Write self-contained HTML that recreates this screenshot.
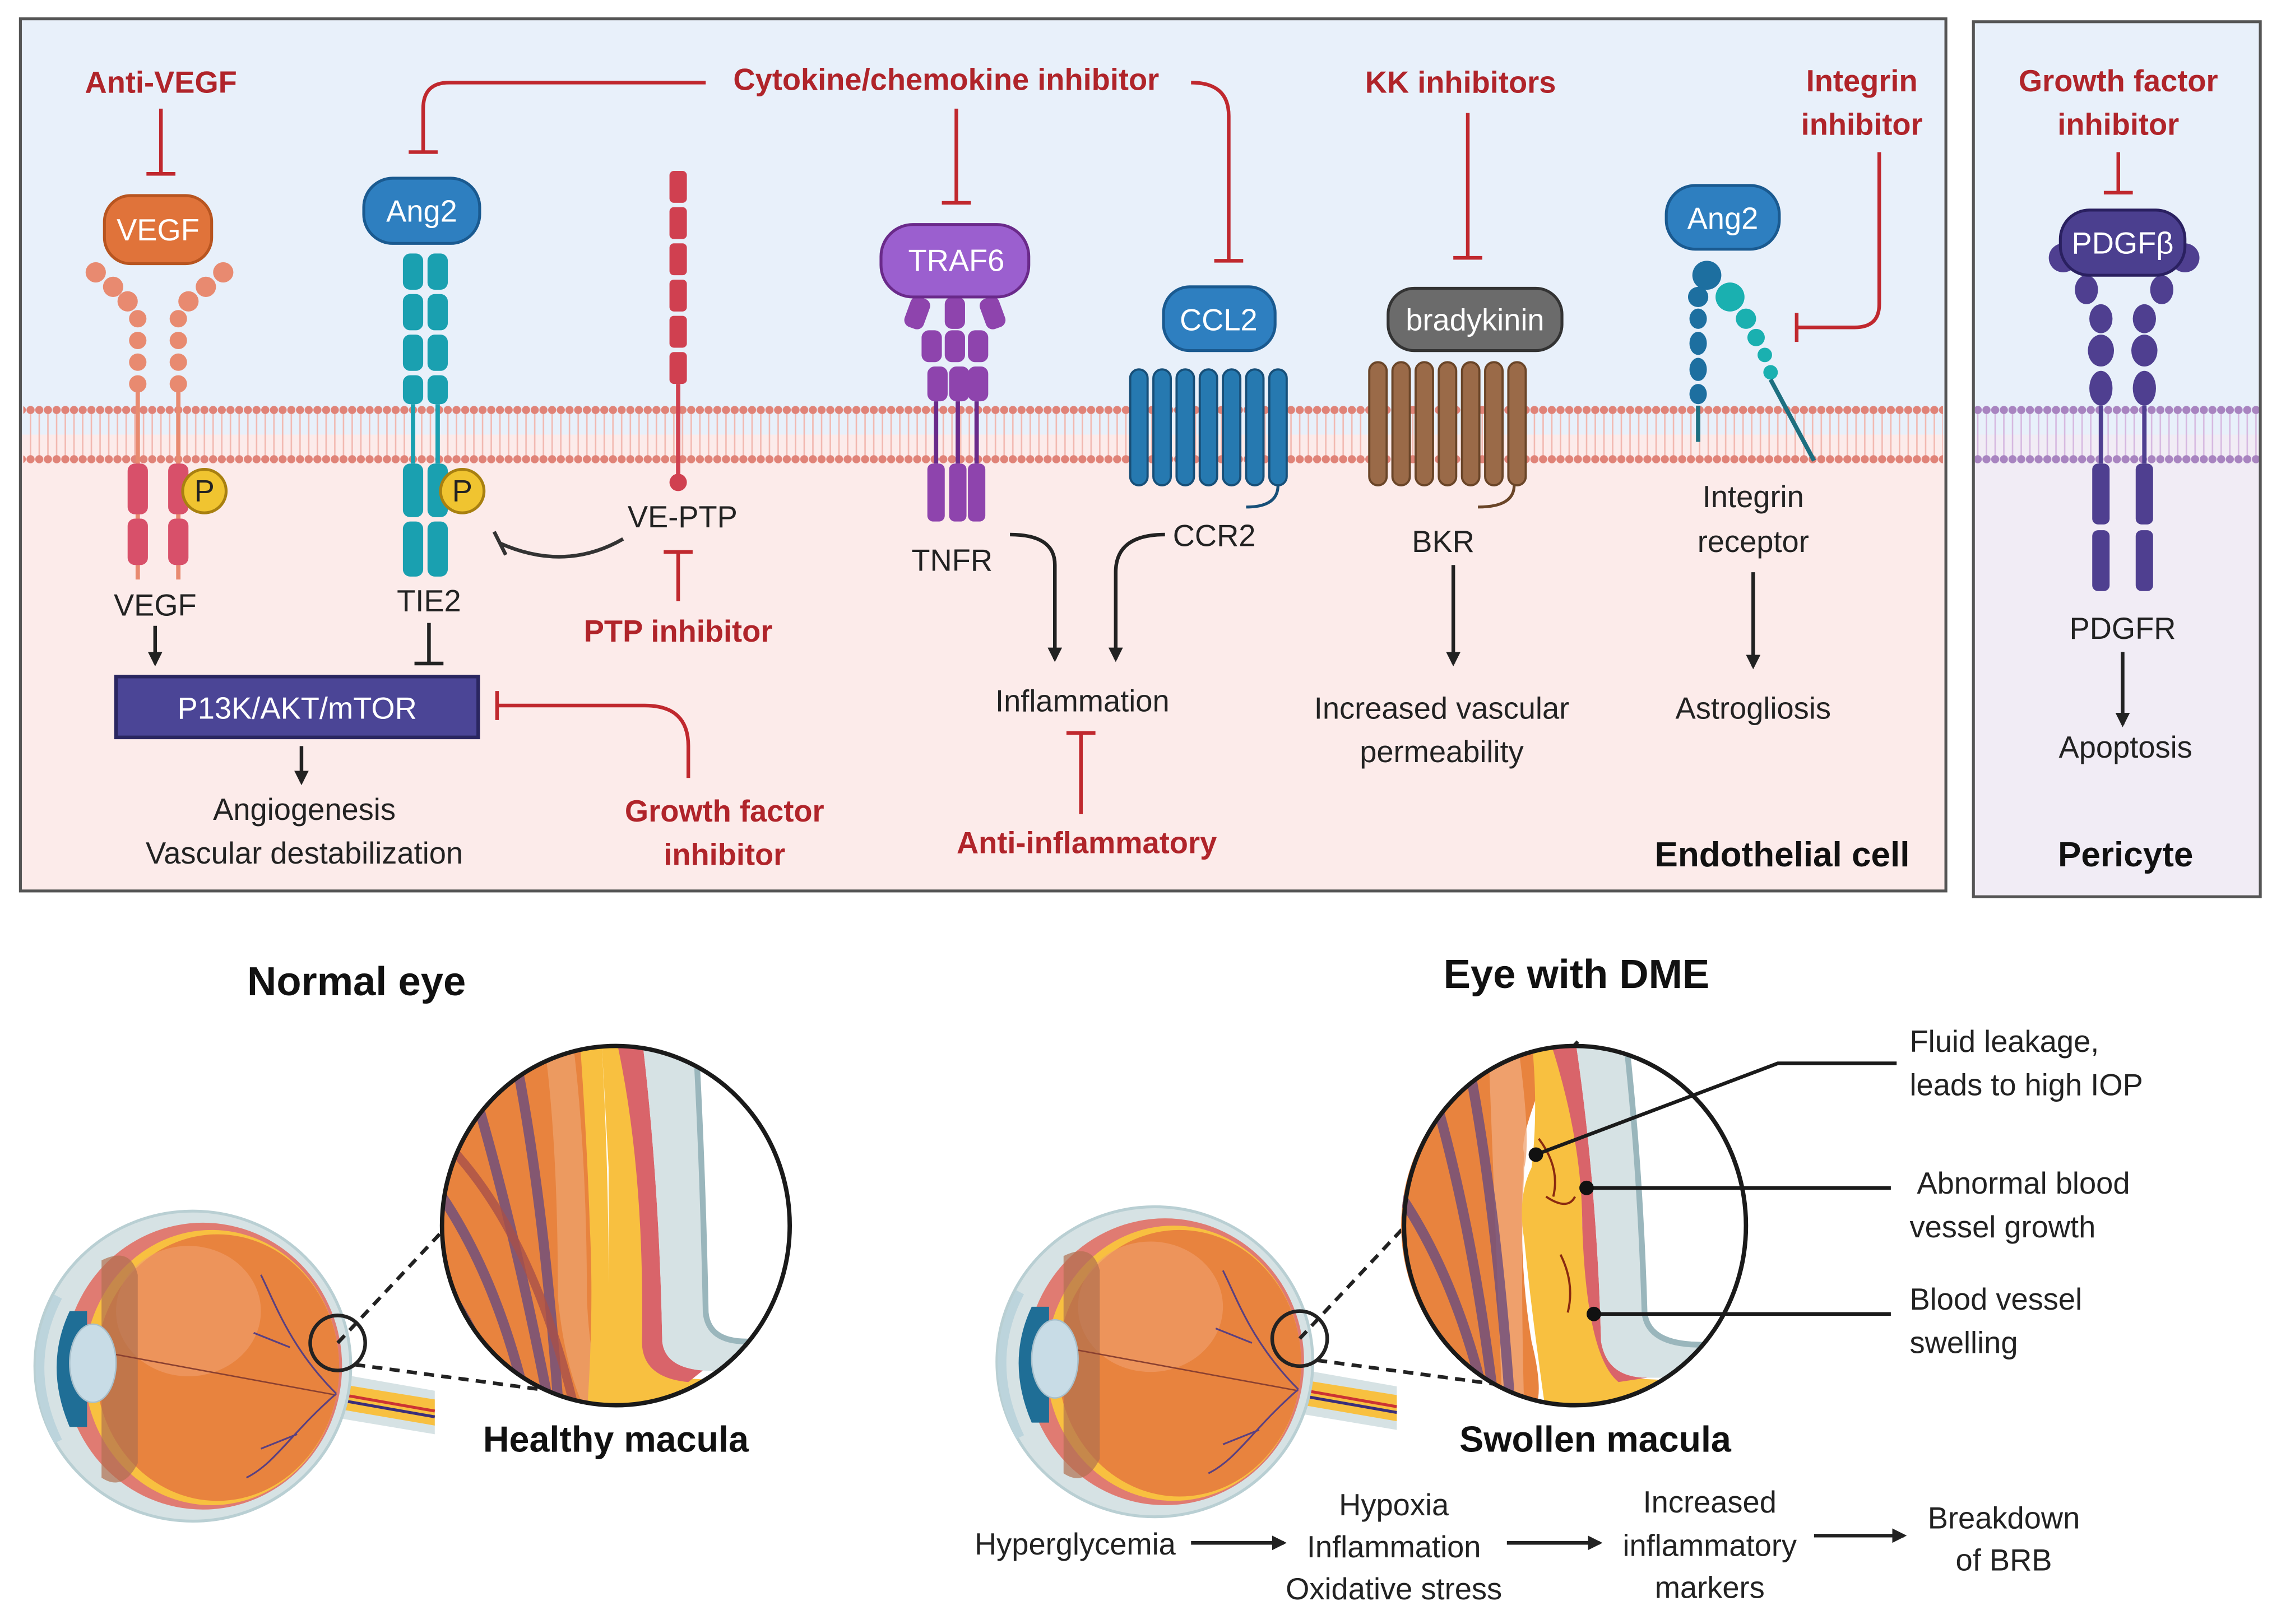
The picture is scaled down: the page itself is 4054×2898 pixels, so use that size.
<!DOCTYPE html>
<html><head><meta charset="utf-8"><style>
html,body{margin:0;padding:0;background:#fff}
svg{display:block}
text{font-family:"Liberation Sans",sans-serif}
.r{fill:#b0242a;font-weight:bold;font-size:21px;text-anchor:middle}
.k{fill:#222;font-size:21px;text-anchor:middle}
.w{fill:#fff;font-size:21px;text-anchor:middle}
.b{fill:#111;font-weight:bold;text-anchor:middle}
.inh{stroke:#c0282e;stroke-width:2.5;fill:none}
.ar{stroke:#222;stroke-width:2.5;fill:none}
</style></head><body>
<svg width="4054" height="2898" viewBox="0 0 1568 1121" xmlns="http://www.w3.org/2000/svg">
<defs>
<pattern id="mem" width="6" height="40" patternUnits="userSpaceOnUse">
<line x1="3" y1="4" x2="3" y2="36" stroke="#f2b8b0" stroke-width="1"/>
<circle cx="3" cy="3" r="2.8" fill="#e08378"/><circle cx="3" cy="37" r="2.8" fill="#e08378"/>
</pattern>
<pattern id="memp" width="6" height="40" patternUnits="userSpaceOnUse">
<line x1="3" y1="4" x2="3" y2="36" stroke="#d6b8e0" stroke-width="1"/>
<circle cx="3" cy="3" r="2.8" fill="#a884c0"/><circle cx="3" cy="37" r="2.8" fill="#a884c0"/>
</pattern>
<marker id="ah" markerWidth="10" markerHeight="10" refX="8" refY="5" orient="auto" markerUnits="userSpaceOnUse"><path d="M0,0 L10,5 L0,10 z" fill="#222"/></marker>
<clipPath id="bc"><ellipse cx="0" cy="0" rx="120" ry="124"/></clipPath>
<g id="eye">
<path d="M232,948 L300,960 L300,990 L228,978 Z" fill="#d6e2e4"/>
<path d="M232,955 L300,966 L300,984 L230,972 Z" fill="#f8c040"/>
<path d="M232,962 L300,974" stroke="#c33" stroke-width="2"/><path d="M232,966 L300,978" stroke="#3a2e7a" stroke-width="2"/>
<ellipse cx="133" cy="943" rx="109" ry="107" fill="#d6e2e4" stroke="#b9cfd3" stroke-width="2"/>
<ellipse cx="140" cy="943" rx="96" ry="99" fill="#e07b72"/>
<ellipse cx="146" cy="944" rx="88" ry="95" fill="#f8c040"/>
<ellipse cx="150" cy="944" rx="84" ry="92" fill="#e8833e"/>
<ellipse cx="130" cy="905" rx="50" ry="45" fill="#f0a070" opacity=".6"/>
<path d="M70,870 Q90,860 95,880 L95,1010 Q85,1030 70,1020 Z" fill="#b07050" opacity=".7"/>
<path d="M48,905 Q30,943 48,985 L60,985 L60,905 Z" fill="#1f6e96"/>
<path d="M40,895 Q15,943 40,995" stroke="#bcd4dc" stroke-width="6" fill="none"/>
<ellipse cx="64" cy="941" rx="16" ry="27" fill="#c8dce6" stroke="#a8c0cc"/>
<path d="M80,935 L232,963" stroke="#8a4030" stroke-width="1"/>
<path d="M232,962 C200,930 190,900 180,880 M232,962 C200,990 190,1010 170,1020 M200,930 L175,920 M205,990 L180,1000" stroke="#5a4080" stroke-width="1.2" fill="none"/>
<line x1="233" y1="927" x2="425" y2="722" stroke="#222" stroke-width="2.5" stroke-dasharray="7,5"/>
<line x1="245" y1="942" x2="395" y2="962" stroke="#222" stroke-width="2.5" stroke-dasharray="7,5"/>
<circle cx="233" cy="927" r="19" fill="none" stroke="#222" stroke-width="2.5"/>
</g>
</defs>

<rect x="14" y="13" width="1329" height="602" fill="#fcebea"/>
<rect x="14" y="13" width="1329" height="287" fill="#e8f0fa"/>
<rect x="16" y="280" width="1325" height="40" fill="url(#mem)"/>
<rect x="14" y="13" width="1329" height="602" fill="none" stroke="#555" stroke-width="2"/>
<rect x="1362" y="15" width="198" height="604" fill="#f1ecf5"/>
<rect x="1362" y="15" width="198" height="285" fill="#e8f0fa"/>
<rect x="1363" y="280" width="196" height="40" fill="url(#memp)"/>
<rect x="1362" y="15" width="198" height="604" fill="none" stroke="#555" stroke-width="2"/>

<text x="111" y="64" class="r">Anti-VEGF</text>
<path d="M111,75 V120 M101,120 H121" class="inh"/>
<g fill="#e88a70">
<circle cx="66" cy="188" r="7"/><circle cx="78" cy="198" r="7"/><circle cx="88" cy="208" r="7"/>
<circle cx="154" cy="188" r="7"/><circle cx="142" cy="198" r="7"/><circle cx="130" cy="208" r="7"/>
<circle cx="95" cy="220" r="6"/><circle cx="95" cy="235" r="6"/><circle cx="95" cy="250" r="6"/><circle cx="95" cy="265" r="6"/>
<circle cx="123" cy="220" r="6"/><circle cx="123" cy="235" r="6"/><circle cx="123" cy="250" r="6"/><circle cx="123" cy="265" r="6"/>
</g>
<path d="M95,270 V400 M123,270 V400" stroke="#e88a70" stroke-width="3"/>
<g fill="#d8506a"><rect x="88" y="320" width="14" height="35" rx="5"/><rect x="88" y="358" width="14" height="32" rx="5"/><rect x="116" y="320" width="14" height="35" rx="5"/><rect x="116" y="358" width="14" height="32" rx="5"/></g>
<rect x="72" y="135" width="74" height="47" rx="18" fill="#e0733a" stroke="#b85520" stroke-width="2"/>
<text x="109" y="166" class="w">VEGF</text>
<circle cx="141" cy="339" r="15" fill="#f0c430" stroke="#a88010" stroke-width="2"/><text x="141" y="346" class="k" font-size="18">P</text>
<text x="107" y="425" class="k">VEGF</text>
<path d="M107,432 V458" class="ar" marker-end="url(#ah)"/>

<text x="653" y="62" class="r">Cytokine/chemokine inhibitor</text>
<path d="M487,57 H310 Q292,57 292,75 V105 M282,105 H302" class="inh"/>
<path d="M660,75 V140 M650,140 H670" class="inh"/>
<path d="M822,57 Q848,57 848,80 V180 M838,180 H858" class="inh"/>
<g fill="#1aa0b0">
<rect x="278" y="175" width="14" height="25" rx="5"/><rect x="295" y="175" width="14" height="25" rx="5"/>
<rect x="278" y="203" width="14" height="25" rx="5"/><rect x="295" y="203" width="14" height="25" rx="5"/>
<rect x="278" y="231" width="14" height="25" rx="5"/><rect x="295" y="231" width="14" height="25" rx="5"/>
<rect x="278" y="259" width="14" height="20" rx="5"/><rect x="295" y="259" width="14" height="20" rx="5"/>
<rect x="278" y="320" width="14" height="37" rx="5"/><rect x="295" y="320" width="14" height="37" rx="5"/>
<rect x="278" y="360" width="14" height="38" rx="5"/><rect x="295" y="360" width="14" height="38" rx="5"/>
</g>
<path d="M285,279 V320 M302,279 V320" stroke="#1aa0b0" stroke-width="3"/>
<rect x="251" y="123" width="80" height="45" rx="20" fill="#2e7fc0" stroke="#1a5a90" stroke-width="2"/>
<text x="291" y="153" class="w">Ang2</text>
<circle cx="319" cy="339" r="15" fill="#f0c430" stroke="#a88010" stroke-width="2"/><text x="319" y="346" class="k" font-size="18">P</text>
<text x="296" y="422" class="k">TIE2</text>
<path d="M296,430 V458 M286,458 H306" class="ar"/>

<g fill="#d04050"><rect x="462" y="118" width="12" height="22" rx="3"/><rect x="462" y="143" width="12" height="22" rx="3"/><rect x="462" y="168" width="12" height="22" rx="3"/><rect x="462" y="193" width="12" height="22" rx="3"/><rect x="462" y="218" width="12" height="22" rx="3"/><rect x="462" y="243" width="12" height="22" rx="3"/></g>
<path d="M468,265 V330" stroke="#d04050" stroke-width="3"/><circle cx="468" cy="333" r="6" fill="#d04050"/>
<text x="471" y="364" class="k">VE-PTP</text>
<path d="M430,372 Q390,395 345,375 M341,367 L349,383" stroke="#333" stroke-width="2.5" fill="none"/>
<path d="M468,415 V381 M458,381 H478" class="inh"/>
<text x="468" y="443" class="r">PTP inhibitor</text>

<rect x="80" y="467" width="250" height="42" fill="#4b4596" stroke="#2a2660" stroke-width="2.5"/>
<text x="205" y="496" class="w">P13K/AKT/mTOR</text>
<path d="M208,515 V540" class="ar" marker-end="url(#ah)"/>
<text x="210" y="566" class="k">Angiogenesis</text>
<text x="210" y="596" class="k">Vascular destabilization</text>
<path d="M475,537 V515 Q475,487 445,487 H343 M343,477 V497" class="inh"/>
<text x="500" y="567" class="r">Growth factor</text>
<text x="500" y="597" class="r">inhibitor</text>

<g fill="#8e44ad">
<rect x="626" y="205" width="14" height="22" rx="5" transform="rotate(20 633 216)"/><rect x="652" y="205" width="14" height="22" rx="5"/><rect x="678" y="205" width="14" height="22" rx="5" transform="rotate(-20 685 216)"/>
<rect x="636" y="228" width="14" height="22" rx="5"/><rect x="652" y="228" width="14" height="22" rx="5"/><rect x="668" y="228" width="14" height="22" rx="5"/>
<rect x="640" y="253" width="14" height="24" rx="5"/><rect x="655" y="253" width="14" height="24" rx="5"/><rect x="668" y="253" width="14" height="24" rx="5"/>
<rect x="640" y="320" width="12" height="40" rx="4"/><rect x="655" y="320" width="12" height="40" rx="4"/><rect x="668" y="320" width="12" height="40" rx="4"/>
</g>
<path d="M646,277 V320 M661,277 V320 M674,277 V320" stroke="#6a2a8a" stroke-width="3"/>
<rect x="608" y="155" width="102" height="50" rx="22" fill="#9b5fcf" stroke="#6a2a8a" stroke-width="2"/>
<text x="660" y="187" class="w">TRAF6</text>
<text x="657" y="394" class="k">TNFR</text>
<path d="M697,369 Q728,369 728,390 V455" class="ar" marker-end="url(#ah)"/>

<g fill="#2679b0" stroke="#174f78" stroke-width="1.5">
<rect x="780" y="255" width="12" height="80" rx="6"/><rect x="796" y="255" width="12" height="80" rx="6"/><rect x="812" y="255" width="12" height="80" rx="6"/><rect x="828" y="255" width="12" height="80" rx="6"/><rect x="844" y="255" width="12" height="80" rx="6"/><rect x="860" y="255" width="12" height="80" rx="6"/><rect x="876" y="255" width="12" height="80" rx="6"/>
</g>
<path d="M882,335 Q882,350 860,350" stroke="#174f78" stroke-width="2" fill="none"/>
<rect x="803" y="198" width="77" height="44" rx="18" fill="#2e7fc0" stroke="#1a5a90" stroke-width="2"/>
<text x="841" y="228" class="w">CCL2</text>
<text x="838" y="377" class="k">CCR2</text>
<path d="M804,369 Q770,369 770,395 V455" class="ar" marker-end="url(#ah)"/>
<text x="747" y="491" class="k">Inflammation</text>
<path d="M746,562 V506 M736,506 H756" class="inh"/>
<text x="750" y="589" class="r">Anti-inflammatory</text>

<text x="1008" y="64" class="r">KK inhibitors</text>
<path d="M1013,78 V178 M1003,178 H1023" class="inh"/>
<g fill="#9a6a48" stroke="#6a4528" stroke-width="1.5">
<rect x="945" y="250" width="12" height="85" rx="6"/><rect x="961" y="250" width="12" height="85" rx="6"/><rect x="977" y="250" width="12" height="85" rx="6"/><rect x="993" y="250" width="12" height="85" rx="6"/><rect x="1009" y="250" width="12" height="85" rx="6"/><rect x="1025" y="250" width="12" height="85" rx="6"/><rect x="1041" y="250" width="12" height="85" rx="6"/>
</g>
<path d="M1045,335 Q1045,350 1020,350" stroke="#6a4528" stroke-width="2" fill="none"/>
<rect x="958" y="199" width="120" height="43" rx="18" fill="#6b6b6b" stroke="#333" stroke-width="2"/>
<text x="1018" y="228" class="w">bradykinin</text>
<text x="996" y="381" class="k">BKR</text>
<path d="M1003,390 V458" class="ar" marker-end="url(#ah)"/>
<text x="995" y="496" class="k">Increased vascular</text>
<text x="995" y="526" class="k">permeability</text>

<text x="1285" y="63" class="r">Integrin</text><text x="1285" y="93" class="r">inhibitor</text>
<path d="M1297,105 V210 Q1297,226 1280,226 H1240 M1240,216 V236" class="inh"/>
<g fill="#1d6fa0"><circle cx="1178" cy="190" r="10"/><circle cx="1172" cy="205" r="7"/><ellipse cx="1172" cy="220" rx="6" ry="7"/><ellipse cx="1172" cy="237" rx="6" ry="8"/><ellipse cx="1172" cy="255" rx="6" ry="8"/><ellipse cx="1172" cy="272" rx="6" ry="7"/></g>
<g fill="#1ab0b0"><circle cx="1194" cy="205" r="10"/><circle cx="1205" cy="220" r="7"/><circle cx="1212" cy="233" r="6"/><circle cx="1218" cy="245" r="5"/><circle cx="1222" cy="257" r="5"/></g>
<path d="M1172,280 V305 M1222,262 L1252,318" stroke="#1d6f80" stroke-width="3"/>
<rect x="1150" y="128" width="78" height="44" rx="20" fill="#2e7fc0" stroke="#1a5a90" stroke-width="2"/>
<text x="1189" y="158" class="w">Ang2</text>
<text x="1210" y="350" class="k">Integrin</text><text x="1210" y="381" class="k">receptor</text>
<path d="M1210,395 V460" class="ar" marker-end="url(#ah)"/>
<text x="1210" y="496" class="k">Astrogliosis</text>
<text x="1230" y="598" class="b" font-size="24">Endothelial cell</text>

<text x="1462" y="63" class="r">Growth factor</text><text x="1462" y="93" class="r">inhibitor</text>
<path d="M1462,105 V133 M1452,133 H1472" class="inh"/>
<g fill="#4f3f90">
<circle cx="1424" cy="178" r="10"/><circle cx="1508" cy="178" r="10"/>
<ellipse cx="1440" cy="200" rx="8" ry="10"/><ellipse cx="1492" cy="200" rx="8" ry="10"/>
<ellipse cx="1450" cy="220" rx="8" ry="10"/><ellipse cx="1480" cy="220" rx="8" ry="10"/>
<ellipse cx="1450" cy="242" rx="9" ry="11"/><ellipse cx="1480" cy="242" rx="9" ry="11"/>
<ellipse cx="1450" cy="268" rx="8" ry="12"/><ellipse cx="1480" cy="268" rx="8" ry="12"/>
<rect x="1444" y="320" width="12" height="42" rx="4"/><rect x="1474" y="320" width="12" height="42" rx="4"/>
<rect x="1444" y="366" width="12" height="42" rx="4"/><rect x="1474" y="366" width="12" height="42" rx="4"/>
</g>
<path d="M1450,280 V320 M1480,280 V320" stroke="#4f3f90" stroke-width="3"/>
<rect x="1422" y="145" width="86" height="45" rx="20" fill="#4b3f8f" stroke="#2a2060" stroke-width="2"/>
<text x="1465" y="175" class="w">PDGFβ</text>
<text x="1465" y="441" class="k">PDGFR</text>
<path d="M1465,450 V500" class="ar" marker-end="url(#ah)"/>
<text x="1467" y="523" class="k">Apoptosis</text>
<text x="1467" y="598" class="b" font-size="24">Pericyte</text>

<text x="246" y="687" class="b" font-size="28">Normal eye</text>
<text x="1088" y="682" class="b" font-size="28">Eye with DME</text>

<use href="#eye"/>
<g transform="translate(425,846)">
<g clip-path="url(#bc)">
<rect x="-130" y="-130" width="260" height="260" fill="#fff"/>
<path d="M-130,-130 L-10,-130 Q-15,-40 -15,70 Q-10,120 -30,130 L-130,130Z" fill="#e8833e"/>
<path d="M-30,-130 Q-20,-50 -20,50 Q-18,100 -5,130 L-20,130 Q-35,100 -40,50 Q-40,-60 -50,-130Z" fill="#ec9a60"/>
<path d="M-10,-130 Q-5,-40 -5,40 Q0,100 40,105 L130,110 L130,130 L-20,130 Q-15,60 -18,0 Q-20,-60 -25,-130Z" fill="#f8c040"/>
<path d="M-10,-130 L10,-130 Q20,-30 18,80 Q22,105 50,105 L-5,108 Q-5,40 -5,-40Z" fill="#f8c040"/>
<path d="M0,-130 L18,-130 Q30,-30 32,80 Q34,98 60,100 L50,108 Q18,105 18,80 Q20,-40 0,-130Z" fill="#d9646a"/>
<path d="M18,-130 L55,-130 Q60,-40 62,60 Q64,80 90,80 L130,82 L130,105 L60,100 Q34,98 32,80 Q30,-30 18,-130Z" fill="#d6e2e4"/>
<path d="M55,-130 Q60,-40 62,60 Q64,80 90,80 L130,82" stroke="#9ab6bc" stroke-width="4" fill="none"/>
<path d="M-120,-20 Q-80,40 -60,130 M-100,-100 Q-70,0 -45,130 M-70,-120 Q-50,-20 -40,120 M-120,40 Q-90,80 -80,130" stroke="#6a4c7e" stroke-width="7" fill="none" opacity=".8"/>
<path d="M-120,-60 Q-60,0 -30,120" stroke="#a8504a" stroke-width="6" fill="none" opacity=".8"/>
</g>
<ellipse cx="0" cy="0" rx="120" ry="124" fill="none" stroke="#1a1a1a" stroke-width="3"/>
</g>
<text x="425" y="1002" class="b" font-size="25">Healthy macula</text>

<g transform="translate(664,-3)"><use href="#eye"/></g>
<g transform="translate(1087,846)">
<g clip-path="url(#bc)">
<rect x="-130" y="-130" width="260" height="260" fill="#fff"/>
<path d="M-130,-130 L-10,-130 Q-40,-60 -35,-50 Q-40,20 -30,80 Q-20,120 -30,130 L-130,130Z" fill="#e8833e"/>
<path d="M-40,-130 Q-30,-60 -35,-40 Q-38,20 -35,130 L-50,130 Q-55,0 -60,-130Z" fill="#f0a878" opacity=".8"/>
<path d="M-30,-130 L-10,-130 Q5,-60 5,0 Q10,80 30,105 L130,110 L130,130 L-20,130 Q-30,60 -35,10 Q-40,-20 -30,-40 Q-25,-80 -30,-130Z" fill="#f8c040"/>
<path d="M-18,-130 L0,-130 Q15,-30 18,80 Q22,105 50,105 L30,108 Q8,90 5,0 Q5,-60 -18,-130Z" fill="#d9646a"/>
<path d="M0,-130 L35,-130 Q45,-40 48,60 Q50,80 80,82 L130,84 L130,105 L50,105 Q22,105 18,80 Q15,-30 0,-130Z" fill="#d6e2e4"/>
<path d="M35,-130 Q45,-40 48,60 Q50,80 80,82 L130,84" stroke="#9ab6bc" stroke-width="4" fill="none"/>
<path d="M-120,-20 Q-80,40 -60,130 M-100,-100 Q-70,0 -55,130 M-75,-120 Q-55,-20 -45,120" stroke="#6a4c7e" stroke-width="7" fill="none" opacity=".8"/>
<path d="M-25,-60 Q-10,-40 -15,-20 M-10,20 Q0,40 -5,60 M-20,-20 Q-5,-10 0,-20" stroke="#8a2a10" stroke-width="1.5" fill="none"/>
</g>
<ellipse cx="0" cy="0" rx="118" ry="124" fill="none" stroke="#1a1a1a" stroke-width="3"/>
</g>
<path d="M1060,797 L1227,734 H1309 M1095,820 H1305 M1100,907 H1305" stroke="#1a1a1a" stroke-width="2.5" fill="none"/>
<circle cx="1060" cy="797" r="5" fill="#111"/><circle cx="1095" cy="820" r="5" fill="#111"/><circle cx="1100" cy="907" r="5" fill="#111"/>
<g class="k">
<text x="1318" y="726" style="text-anchor:start">Fluid leakage,</text>
<text x="1318" y="756" style="text-anchor:start">leads to high IOP</text>
<text x="1323" y="824" style="text-anchor:start">Abnormal blood</text>
<text x="1318" y="854" style="text-anchor:start">vessel growth</text>
<text x="1318" y="904" style="text-anchor:start">Blood vessel</text>
<text x="1318" y="934" style="text-anchor:start">swelling</text>
</g>
<text x="1101" y="1002" class="b" font-size="25">Swollen macula</text>
<text x="742" y="1073" class="k">Hyperglycemia</text>
<path d="M822,1065 H886" class="ar" marker-end="url(#ah)"/>
<text x="962" y="1046" class="k">Hypoxia</text><text x="962" y="1075" class="k">Inflammation</text><text x="962" y="1104" class="k">Oxidative stress</text>
<path d="M1040,1065 H1104" class="ar" marker-end="url(#ah)"/>
<text x="1180" y="1044" class="k">Increased</text><text x="1180" y="1074" class="k">inflammatory</text><text x="1180" y="1103" class="k">markers</text>
<path d="M1252,1060 H1314" class="ar" marker-end="url(#ah)"/>
<text x="1383" y="1055" class="k">Breakdown</text><text x="1383" y="1084" class="k">of BRB</text>
</svg>
</body></html>
